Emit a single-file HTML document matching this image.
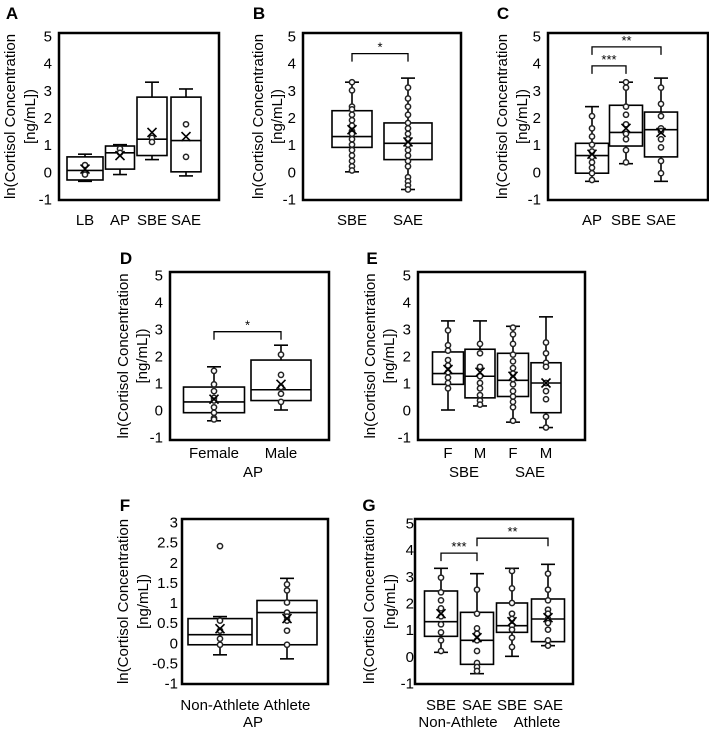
<!DOCTYPE html>
<html><head><meta charset="utf-8"><style>
html,body{margin:0;padding:0;background:#fff;}
svg{display:block;font-family:"Liberation Sans",Arial,sans-serif;}
</style></head><body>
<svg id="fig" width="709" height="731" viewBox="0 0 709 731" xmlns="http://www.w3.org/2000/svg"></svg>
<script>
// ---- data ----
const catsA = ["LB","AP","SBE","SAE"];
const q1A = [-0.3,0.1,0.6,0.0], medA = [0.05,0.7,1.2,1.15], q3A = [0.55,0.95,2.75,2.75];
const loA = [-0.35,-0.1,0.45,-0.15], hiA = [0.65,1.0,3.3,3.05], meanA = [0.1,0.6,1.45,1.3];
const ptsA = [[0.25,-0.1],[0.85,0.7],[1.25,1.1],[1.75,0.55]];

const catsB = ["SBE","SAE"];
const q1B = [0.9,0.45], medB = [1.3,1.05], q3B = [2.25,1.8], loB = [0.0,-0.65], hiB = [3.3,3.45], meanB = [1.55,1.1];
const ptsB = [[3.3,3.0,2.4,2.3,2.1,1.9,1.7,1.5,1.4,1.2,1.0,0.8,0.6,0.4,0.2,0.05],
              [3.1,2.7,2.4,2.1,1.8,1.6,1.4,1.2,1.0,0.8,0.6,0.4,0.2,-0.2,-0.35,-0.5,-0.65]];

const catsC = ["AP","SBE","SAE"];
const q1C = [-0.05,0.95,0.55], medC = [0.6,1.45,1.55], q3C = [1.05,2.45,2.2], loC = [-0.35,0.3,-0.35], hiC = [2.4,3.3,3.45], meanC = [0.65,1.6,1.45];
const ptsC = [[2.05,1.6,1.3,1.0,0.75,0.55,0.35,0.15,-0.05,-0.3],[3.3,3.1,2.4,2.1,1.75,1.4,1.2,0.8,0.35],[3.1,2.5,2.05,1.6,1.5,1.2,0.9,0.4,-0.05]];

const catsD = ["Female","Male"];
const q1D = [-0.1,0.35], medD = [0.3,0.75], q3D = [0.85,1.85], loD = [-0.4,0.0], hiD = [1.6,2.4], meanD = [0.4,0.95];
const ptsD = [[1.45,0.95,0.7,0.45,0.35,0.1,-0.1,-0.3,-0.35],[2.05,1.3,0.85,0.6,0.3]];

const catsE = ["F","M","F","M"];
const q1E = [0.95,0.45,0.5,-0.1], medE = [1.35,1.25,1.1,1.0], q3E = [2.15,2.25,2.1,1.75], loE = [0.0,0.15,-0.45,-0.65], hiE = [3.3,3.3,3.1,3.45], meanE = [1.5,1.4,1.25,1.0];
const ptsE = [[2.95,2.4,2.2,1.85,1.65,1.4,1.2,1.0,0.8],[2.45,2.1,1.6,1.25,1.0,0.8,0.55,0.35,0.2],
              [3.05,2.8,2.45,2.05,1.8,1.55,1.35,1.15,0.95,0.7,0.5,0.3,0.1,-0.4],[2.5,2.1,1.75,1.6,1.0,0.7,0.4,-0.25,-0.65]];

const catsF = ["Non-Athlete","Athlete"];
const q1F = [-0.05,-0.05], medF = [0.2,0.75], q3F = [0.6,1.05], loF = [-0.3,-0.4], hiF = [0.65,1.6], meanF = [0.35,0.6];
const ptsF = [[2.4,0.55,0.3,0.1,-0.05],[1.45,1.3,1.0,0.75,0.65,0.55,0.3,-0.05]];

const catsG = ["SBE","SAE","SBE","SAE"];
const q1G = [0.75,-0.3,0.9,0.55], medG = [1.3,0.6,1.15,1.4], q3G = [2.45,1.65,2.0,2.15], loG = [0.15,-0.65,0.0,0.4], hiG = [3.3,3.1,3.3,3.45], meanG = [1.6,0.7,1.3,1.45];
const ptsG = [[2.95,2.4,2.1,1.8,1.5,1.2,0.9,0.6,0.2],[2.5,1.6,1.05,0.85,0.6,0.2,-0.25,-0.4,-0.55],[3.2,2.55,2.0,1.6,1.4,1.15,1.0,0.7,0.35],[3.1,2.5,2.1,1.75,1.6,1.4,1.25,1.0,0.6,0.4]];

const ticks5 = ["5","4","3","2","1","0","-1"];
const tickVals5 = [5,4,3,2,1,0,-1];
const ticksF = ["3","2.5","2","1.5","1","0.5","0","-0.5","-1"];
const tickValsF = [3,2.5,2,1.5,1,0.5,0,-0.5,-1];

// ---- layout ----
const NS = "http://www.w3.org/2000/svg";
const svg = document.getElementById("fig");
const FS = 15;
function mk(tag, attrs, parent, text){
  const e = document.createElementNS(NS, tag);
  for (const k in attrs) e.setAttribute(k, attrs[k]);
  if (text !== undefined) e.textContent = text;
  (parent||svg).appendChild(e); return e;
}
const panels = [
 {id:"a", L:"A", lx:12, ly:19, x0:59, x1:219, y0:33, y1:200, vTop:5, yTop:36, yBot:199, tx:52, t1:10, t2:30,
  cats:catsA, q1:q1A, med:medA, q3:q3A, lo:loA, hi:hiA, mean:meanA, pts:ptsA, cx:[85,120,152,186], bw:[36,29,30,30],
  ticks:ticks5, tv:tickVals5, catY:225, groups:[], br:[]},
 {id:"b", L:"B", lx:259, ly:19, x0:303, x1:461, y0:33, y1:200, vTop:5, yTop:36, yBot:199, tx:296, t1:258, t2:277,
  cats:catsB, q1:q1B, med:medB, q3:q3B, lo:loB, hi:hiB, mean:meanB, pts:ptsB, cx:[352,408], bw:[40,48],
  ticks:ticks5, tv:tickVals5, catY:225, groups:[], br:[[0,1,4.35,"*"]]},
 {id:"c", L:"C", lx:503, ly:19, x0:548, x1:708, y0:33, y1:200, vTop:5, yTop:36, yBot:199, tx:541, t1:502, t2:522,
  cats:catsC, q1:q1C, med:medC, q3:q3C, lo:loC, hi:hiC, mean:meanC, pts:ptsC, cx:[592,626,661], bw:[33,33,33],
  ticks:ticks5, tv:tickVals5, catY:225, groups:[], br:[[0,1,3.9,"***"],[0,2,4.6,"**"]]},
 {id:"d", L:"D", lx:126, ly:264, x0:170, x1:329, y0:272, y1:440, vTop:5, yTop:275, yBot:437, tx:163, t1:123, t2:142,
  cats:catsD, q1:q1D, med:medD, q3:q3D, lo:loD, hi:hiD, mean:meanD, pts:ptsD, cx:[214,281], bw:[61,60],
  ticks:ticks5, tv:tickVals5, catY:458, groups:[["AP",253]], gY:477, br:[[0,1,2.9,"*"]]},
 {id:"e", L:"E", lx:372, ly:264, x0:418, x1:585, y0:272, y1:440, vTop:5, yTop:275, yBot:437, tx:411, t1:370, t2:389,
  cats:catsE, q1:q1E, med:medE, q3:q3E, lo:loE, hi:hiE, mean:meanE, pts:ptsE, cx:[448,480,513,546], bw:[31,30,31,30],
  ticks:ticks5, tv:tickVals5, catY:458, groups:[["SBE",464],["SAE",530]], gY:477, br:[]},
 {id:"f", L:"F", lx:125, ly:511, x0:182, x1:328, y0:519, y1:684, vTop:3, yTop:522, yBot:683, tx:178, t1:123, t2:143,
  cats:catsF, q1:q1F, med:medF, q3:q3F, lo:loF, hi:hiF, mean:meanF, pts:ptsF, cx:[220,287], bw:[64,60],
  ticks:ticksF, tv:tickValsF, catY:710, groups:[["AP",253]], gY:727, br:[]},
 {id:"g", L:"G", lx:369, ly:511, x0:415, x1:573, y0:519, y1:684, vTop:5, yTop:523, yBot:683, tx:414, t1:369, t2:390,
  cats:catsG, q1:q1G, med:medG, q3:q3G, lo:loG, hi:hiG, mean:meanG, pts:ptsG, cx:[441,477,512,548], bw:[33,33,31,33],
  ticks:ticks5, tv:tickVals5, catY:710, groups:[["Non-Athlete",458],["Athlete",537]], gY:727, br:[[0,1,3.87,"***"],[1,3,4.43,"**"]]}
];

panels.forEach(p => {
  const g = mk("g", {});
  
  
  const vBot = p.tv[p.tv.length-1];
  const y = v => p.yBot - (v - vBot) * (p.yBot - p.yTop) / (p.vTop - vBot);
  const lab = mk("text", {x:p.lx, y:p.ly, "font-size":17, "font-weight":"bold", "text-anchor":"middle"}, g, p.L);
  
  
  const my = (p.y0 + p.y1)/2;
  const yt = mk("text", {transform:`translate(${p.t1+5},${my}) rotate(-90)`, "font-size":FS, "text-anchor":"middle"}, g, "ln(Cortisol Concentration");
  
  
  const yt2 = mk("text", {transform:`translate(${p.t2+5},${my}) rotate(-90)`, "font-size":FS, "text-anchor":"middle"}, g, "[ng/mL])");
  
  
  p.ticks.forEach((t,i) => {
    const tl = mk("text", {x:p.tx, y:y(p.tv[i])+5.5, "font-size":FS, "text-anchor":"end"}, g, t);
    
    
  });
  const fr = mk("rect", {x:p.x0, y:p.y0, width:p.x1-p.x0, height:p.y1-p.y0, fill:"none", stroke:"#000", "stroke-width":2.5}, g);
  
  
  p.cats.forEach((c,i) => {
    const bg = mk("g", {}, g);
    
    
    const cx = p.cx[i], hw = p.bw[i]/2, cap = 7;
    const st = {stroke:"#000", "stroke-width":1.6, fill:"none"};
    mk("line", Object.assign({x1:cx, x2:cx, y1:y(p.hi[i]), y2:y(p.q3[i])}, st), bg);
    mk("line", Object.assign({x1:cx, x2:cx, y1:y(p.lo[i]), y2:y(p.q1[i])}, st), bg);
    mk("line", Object.assign({x1:cx-cap, x2:cx+cap, y1:y(p.hi[i]), y2:y(p.hi[i])}, st), bg);
    mk("line", Object.assign({x1:cx-cap, x2:cx+cap, y1:y(p.lo[i]), y2:y(p.lo[i])}, st), bg);
    mk("rect", Object.assign({x:cx-hw, y:y(p.q3[i]), width:2*hw, height:y(p.q1[i])-y(p.q3[i])}, st, {fill:"#fff"}), bg);
    mk("line", Object.assign({x1:cx-hw, x2:cx+hw, y1:y(p.med[i]), y2:y(p.med[i])}, st), bg);
    p.pts[i].forEach(v => {
      const pt = mk("circle", {cx:cx, cy:y(v), r:2.6, fill:"#fff", stroke:"#222", "stroke-width":1.5}, bg);
      
      
    });
    const m = y(p.mean[i]), s = 4.5;
    const mp = mk("path", {d:`M${cx-s},${m-s}L${cx+s},${m+s}M${cx-s},${m+s}L${cx+s},${m-s}`, stroke:"#000", "stroke-width":1.6}, bg);
    
    
    const cl = mk("text", {x:cx, y:p.catY, "font-size":FS, "text-anchor":"middle"}, g, c);
    
    
  });
  p.groups.forEach(gr => {
    const gl = mk("text", {x:gr[1], y:p.gY, "font-size":FS, "text-anchor":"middle"}, g, gr[0]);
    
    
  });
  p.br.forEach(b => {
    const xa = p.cx[b[0]], xb = p.cx[b[1]], yy = y(b[2]);
    const bp = mk("path", {d:`M${xa},${yy+8}V${yy}H${xb}V${yy+8}`, fill:"none", stroke:"#000", "stroke-width":1.3}, g);
    
    
    const bt = mk("text", {x:(xa+xb)/2, y:yy-2, "font-size":13, "text-anchor":"middle"}, g, b[3]);
    
    
  });
});
</script>
</body></html>
